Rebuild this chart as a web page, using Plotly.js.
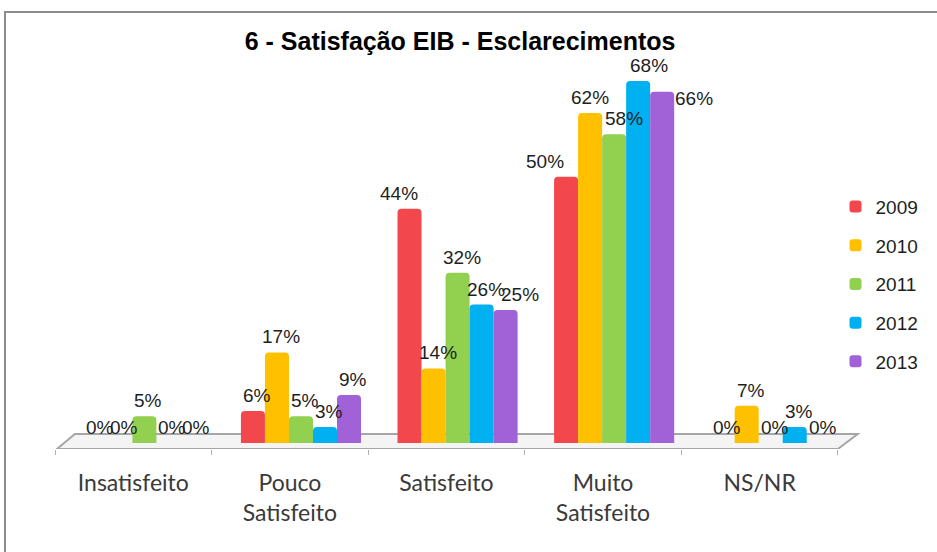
<!DOCTYPE html>
<html><head><meta charset="utf-8">
<script src="https://cdn.plot.ly/plotly-3.0.1.min.js"></script>
<style>
html,body{margin:0;padding:0;background:#fff;overflow:hidden}
#chart{width:937px;height:552px}
#frame{position:absolute;left:4px;top:11px;width:1000px;height:600px;border:2px solid #8c8c8c;pointer-events:none;z-index:5}
</style></head>
<body>
<div id="frame"></div>
<div id="chart"></div>
<script>
const categories = ['Insatisfeito', 'Pouco<br>Satisfeito', 'Satisfeito', 'Muito<br>Satisfeito', 'NS/NR'];
const years = ['2009', '2010', '2011', '2012', '2013'];
const v2009 = [0, 6, 44, 50, 0];
const v2010 = [0, 17, 14, 62, 7];
const v2011 = [5, 5, 32, 58, 0];
const v2012 = [0, 3, 26, 68, 3];
const v2013 = [0, 9, 25, 66, 0];
const seriesValues = [v2009, v2010, v2011, v2012, v2013];
const colors = ['#F2474C', '#FFC000', '#92D050', '#00B0F0', '#A062D6'];

// label placement style (pixel nudges, series index, category index)
const labelNudge = {'0,2': [-15, 0], '4,2': [10, 0], '0,3': [-25, 0], '1,3': [-4, 0],
                    '2,3': [6, 0], '3,3': [7, 0], '4,3': [28, -22]};

const barPx = 24;
const traces = seriesValues.map((vals, i) => ({
  type: 'bar',
  name: years[i],
  legendgroup: years[i],
  x: categories,
  y: vals,
  xaxis: 'x2', yaxis: 'y',
  marker: {color: colors[i], cornerradius: 4},
  hoverinfo: 'skip'
}));
// invisible carrier so the category-label axis is drawn
traces.push({type: 'scatter', mode: 'none', x: categories.map((c, j) => j), y: categories.map(() => 0),
             xaxis: 'x', yaxis: 'y', showlegend: false, hoverinfo: 'skip'});

const annotations = [];
seriesValues.forEach((vals, i) => {
  vals.forEach((v, j) => {
    const n = labelNudge[i + ',' + j] || [0, 0];
    annotations.push({
      xref: 'x2', yref: 'y', x: categories[j], y: v,
      text: v + '%', showarrow: false,
      xanchor: 'center', yanchor: 'bottom',
      xshift: (i - 2) * barPx + 4 + n[0], yshift: 3 + n[1],
      font: {family: 'Liberation Sans, Arial', size: 19, color: '#1e1e1e'}
    });
  });
});

const layout = {
  width: 937, height: 552,
  margin: {l: 55, r: 88, t: 81, b: 103},
  paper_bgcolor: 'rgba(0,0,0,0)',
  plot_bgcolor: 'rgba(0,0,0,0)',
  title: {text: '<b>6 - Satisfação EIB - Esclarecimentos</b>', x: 0.491, xanchor: 'center', y: 0.925, yanchor: 'middle',
          font: {family: 'Liberation Sans, Arial', size: 25, color: '#000'}},
  barmode: 'group',
  bargap: 0.233,
  bargroupgap: 0,
  showlegend: true,
  legend: {x: 0.983, xanchor: 'left', y: 0.71, yanchor: 'top', tracegroupgap: 11,
           font: {family: 'Liberation Sans, Arial', size: 19, color: '#1e1e1e'}, itemwidth: 30},
  xaxis: {type: 'linear', domain: [0, 0.986], anchor: 'y', range: [-0.5, 4.5],
          showgrid: false, zeroline: false, showline: false,
          tickmode: 'array', tickvals: [0, 1, 2, 3, 4], ticktext: categories, ticks: '',
          minor: {tickmode: 'array', tickvals: [-0.5, 0.5, 1.5, 2.5, 3.5, 4.5], ticks: 'outside', ticklen: 5, tickcolor: '#b0b0b0', tickwidth: 1, showgrid: false},
          ticklabelstandoff: 18,
          tickfont: {family: 'Lato, Carlito, Calibri', size: 23, color: '#3a3a3a'}},
  xaxis2: {type: 'category', domain: [0.014, 1], anchor: 'y', showgrid: false, zeroline: false, showline: false,
           showticklabels: false, ticks: ''},
  yaxis: {range: [-1.13, 68], showgrid: false, zeroline: false, showline: false, showticklabels: false, ticks: ''},
  annotations: annotations,
  shapes: [
    {type: 'path', xref: 'paper', yref: 'y', layer: 'below',
     path: 'M 0.0025,-1.13 L 0.986,-1.13 L 1.011,1.69 L 0.025,1.69 Z',
     fillcolor: '#f4f4f4', line: {color: '#a6a6a6', width: 2}}
  ]
};

Plotly.newPlot('chart', traces, layout, {staticPlot: true});
</script>
</body></html>
